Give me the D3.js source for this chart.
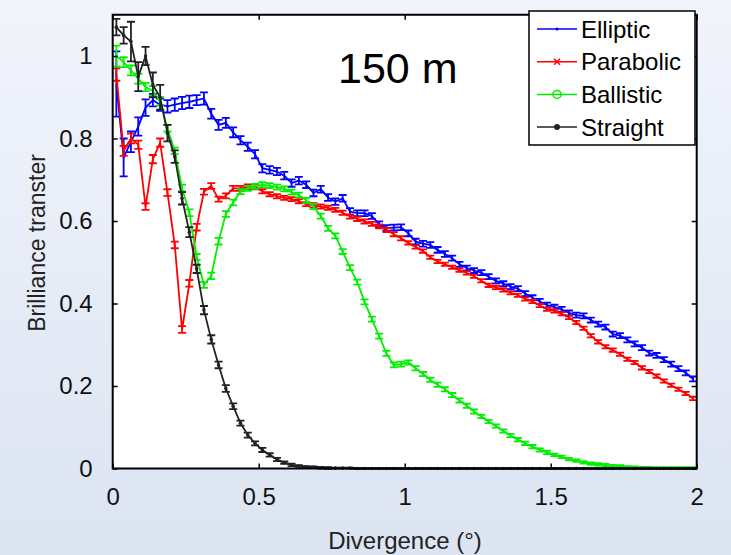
<!doctype html>
<html>
<head>
<script src="https://cdnjs.cloudflare.com/ajax/libs/d3/7.8.5/d3.min.js"></script>
<style>
  body { margin: 0; }
  svg { display: block; font-family: "Liberation Sans", Arial, sans-serif; }
</style>
</head>
<body>
<svg width="731" height="555"></svg>
<script>
// divergence (deg), bin centres
var divergence = [
  0.0125,0.0375,0.0625,0.0875,0.1125,0.1375,0.1625,0.1875,0.2125,0.2375,
  0.2625,0.2875,0.3125,0.3375,0.3625,0.3875,0.4125,0.4375,0.4625,0.4875,
  0.5125,0.5375,0.5625,0.5875,0.6125,0.6375,0.6625,0.6875,0.7125,0.7375,
  0.7625,0.7875,0.8125,0.8375,0.8625,0.8875,0.9125,0.9375,0.9625,0.9875,
  1.0125,1.0375,1.0625,1.0875,1.1125,1.1375,1.1625,1.1875,1.2125,1.2375,
  1.2625,1.2875,1.3125,1.3375,1.3625,1.3875,1.4125,1.4375,1.4625,1.4875,
  1.5125,1.5375,1.5625,1.5875,1.6125,1.6375,1.6625,1.6875,1.7125,1.7375,
  1.7625,1.7875,1.8125,1.8375,1.8625,1.8875,1.9125,1.9375,1.9625,1.9875];

var elliptic = [
  0.932,0.754,0.792,0.829,0.875,0.893,0.882,0.878,0.882,0.886,
  0.889,0.893,0.897,0.860,0.833,0.838,0.815,0.796,0.780,0.762,
  0.728,0.724,0.720,0.710,0.692,0.698,0.688,0.668,0.677,0.657,
  0.647,0.655,0.623,0.619,0.619,0.612,0.592,0.583,0.584,0.585,
  0.570,0.550,0.545,0.542,0.530,0.520,0.510,0.495,0.486,0.480,
  0.475,0.465,0.455,0.448,0.441,0.436,0.424,0.414,0.405,0.396,
  0.391,0.386,0.377,0.372,0.370,0.360,0.350,0.343,0.326,0.322,
  0.312,0.302,0.293,0.280,0.274,0.264,0.253,0.242,0.232,0.217];
var ellipticErr = [
  0.079,0.046,0.025,0.022,0.020,0.015,0.015,0.015,0.015,0.015,
  0.015,0.012,0.015,0.012,0.012,0.012,0.012,0.010,0.010,0.010,
  0.010,0.009,0.009,0.009,0.009,0.009,0.008,0.008,0.008,0.008,
  0.008,0.008,0.008,0.007,0.007,0.007,0.007,0.007,0.007,0.007,
  0.007,0.007,0.007,0.007,0.007,0.007,0.006,0.006,0.006,0.006,
  0.006,0.006,0.006,0.006,0.006,0.006,0.006,0.006,0.006,0.006,
  0.006,0.006,0.006,0.006,0.006,0.006,0.006,0.006,0.006,0.006,
  0.006,0.006,0.006,0.006,0.006,0.006,0.006,0.006,0.006,0.006];

var parabolic = [
  0.955,0.770,0.800,0.785,0.635,0.750,0.790,0.669,0.542,0.337,
  0.449,0.585,0.671,0.685,0.653,0.661,0.679,0.679,0.683,0.683,
  0.672,0.665,0.660,0.656,0.653,0.648,0.641,0.638,0.635,0.632,
  0.627,0.620,0.611,0.605,0.599,0.593,0.587,0.578,0.568,0.558,
  0.547,0.537,0.527,0.512,0.502,0.495,0.488,0.481,0.474,0.466,
  0.455,0.444,0.439,0.433,0.426,0.420,0.411,0.405,0.395,0.386,
  0.382,0.375,0.366,0.354,0.340,0.322,0.307,0.295,0.287,0.277,
  0.265,0.257,0.244,0.235,0.224,0.212,0.202,0.192,0.182,0.170];
var parabolicErr = [
  0.015,0.012,0.012,0.010,0.008,0.010,0.010,0.008,0.008,0.008,
  0.008,0.008,0.007,0.007,0.006,0.006,0.006,0.006,0.006,0.006,
  0.005,0.005,0.005,0.005,0.005,0.005,0.005,0.005,0.005,0.005,
  0.005,0.005,0.005,0.005,0.005,0.005,0.005,0.005,0.005,0.005,
  0.004,0.004,0.004,0.004,0.004,0.004,0.004,0.004,0.004,0.004,
  0.004,0.004,0.004,0.004,0.004,0.004,0.004,0.004,0.004,0.004,
  0.004,0.004,0.004,0.004,0.004,0.004,0.004,0.004,0.004,0.004,
  0.004,0.004,0.004,0.004,0.004,0.004,0.004,0.004,0.004,0.004];

var ballistic = [
  1.000,0.985,0.965,0.945,0.925,0.915,0.890,0.825,0.770,0.680,
  0.620,0.513,0.445,0.467,0.551,0.617,0.645,0.671,0.679,0.684,
  0.688,0.686,0.682,0.678,0.670,0.663,0.650,0.635,0.612,0.582,
  0.564,0.526,0.487,0.452,0.404,0.362,0.321,0.279,0.251,0.253,
  0.257,0.243,0.229,0.215,0.203,0.192,0.178,0.165,0.152,0.138,
  0.126,0.114,0.103,0.091,0.080,0.070,0.061,0.053,0.045,0.039,
  0.033,0.028,0.023,0.019,0.015,0.012,0.010,0.008,0.006,0.005,
  0.004,0.003,0.002,0.002,0.001,0.001,0.001,0.001,0.001,0.001];
var ballisticErr = [
  0.025,0.012,0.012,0.012,0.010,0.012,0.010,0.008,0.008,0.008,
  0.008,0.007,0.007,0.008,0.008,0.007,0.007,0.006,0.006,0.006,
  0.006,0.006,0.006,0.006,0.006,0.006,0.006,0.006,0.006,0.006,
  0.006,0.006,0.006,0.006,0.006,0.006,0.006,0.006,0.006,0.006,
  0.005,0.005,0.005,0.005,0.005,0.005,0.005,0.005,0.005,0.005,
  0.004,0.004,0.004,0.004,0.004,0.004,0.004,0.004,0.004,0.004,
  0.003,0.003,0.003,0.003,0.003,0.003,0.003,0.003,0.003,0.003,
  0.002,0.002,0.002,0.002,0.002,0.002,0.002,0.002,0.002,0.002];

var straight = [
  1.070,1.050,1.035,0.950,1.000,0.930,0.900,0.813,0.756,0.655,
  0.573,0.484,0.384,0.313,0.251,0.194,0.151,0.110,0.081,0.061,
  0.045,0.033,0.022,0.014,0.009,0.006,0.004,0.003,0.002,0.001,
  0.001,0.001,0.001,0,0,0,0,0,0,0,
  0,0,0,0,0,0,0,0,0,0,
  0,0,0,0,0,0,0,0,0,0,
  0,0,0,0,0,0,0,0,0,0,
  0,0,0,0,0,0,0,0,0,0];
var straightErr = [
  0.020,0.020,0.048,0.035,0.022,0.030,0.030,0.020,0.015,0.015,
  0.012,0.010,0.010,0.010,0.008,0.008,0.007,0.006,0.006,0.005,
  0.005,0.004,0.004,0.003,0.003,0.002,0.002,0.002,0.002,0.002,
  0.001,0.001,0.001,0.001,0.001,0.001,0.001,0.001,0.001,0.001,
  0.001,0.001,0.001,0.001,0.001,0.001,0.001,0.001,0.001,0.001,
  0.001,0.001,0.001,0.001,0.001,0.001,0.001,0.001,0.001,0.001,
  0.001,0.001,0.001,0.001,0.001,0.001,0.001,0.001,0.001,0.001,
  0.001,0.001,0.001,0.001,0.001,0.001,0.001,0.001,0.001,0.001];

var seriesNames = ["Elliptic", "Parabolic", "Ballistic", "Straight"];
var xTicks = [0, 0.5, 1, 1.5, 2];
var yTicks = [0, 0.2, 0.4, 0.6, 0.8, 1];

var series = [
  {name: seriesNames[0], values: elliptic, err: ellipticErr, color: "#0000ff", marker: "dot"},
  {name: seriesNames[1], values: parabolic, err: parabolicErr, color: "#ff0000", marker: "x"},
  {name: seriesNames[2], values: ballistic, err: ballisticErr, color: "#00f000", marker: "circle"},
  {name: seriesNames[3], values: straight, err: straightErr, color: "#222222", marker: "star"}
];

var svg = d3.select("svg");

// slide background
var grad = svg.append("defs").append("linearGradient")
  .attr("id", "bg").attr("x1", 0).attr("y1", 0).attr("x2", 0).attr("y2", 1);
grad.append("stop").attr("offset", "0%").attr("stop-color", "#f1f4fb");
grad.append("stop").attr("offset", "100%").attr("stop-color", "#dce4f2");
svg.append("rect").attr("width", 731).attr("height", 555).attr("fill", "url(#bg)");

var x = d3.scaleLinear().domain([0, 2]).range([112.7, 696.7]);
var y = d3.scaleLinear().domain([0, 1.1]).range([468.5, 14.75]);

svg.append("rect")
  .attr("x", x(0)).attr("y", y(1.1))
  .attr("width", x(2) - x(0)).attr("height", y(0) - y(1.1))
  .attr("fill", "#fff");

svg.append("defs").append("clipPath").attr("id", "clip")
  .append("rect")
  .attr("x", x(0)).attr("y", y(1.1) - 2)
  .attr("width", x(2) - x(0) + 4).attr("height", y(0) - y(1.1) + 4);

var plot = svg.append("g").attr("clip-path", "url(#clip)");
var line = d3.line().x((d, i) => x(divergence[i])).y(d => y(d));

series.forEach(function (s) {
  var g = plot.append("g");
  g.append("path")
    .attr("d", line(s.values))
    .attr("fill", "none")
    .attr("stroke", s.color)
    .attr("stroke-width", 1.8);

  var bars = g.selectAll(".eb")
    .data(s.values)
    .enter()
    .append("g")
    .attr("stroke", s.color)
    .attr("stroke-width", 1.8);
  bars.append("line")
    .attr("x1", (d, i) => x(divergence[i])).attr("x2", (d, i) => x(divergence[i]))
    .attr("y1", (d, i) => y(d - s.err[i])).attr("y2", (d, i) => y(d + s.err[i]));
  bars.append("line")
    .attr("x1", (d, i) => x(divergence[i]) - 4).attr("x2", (d, i) => x(divergence[i]) + 4)
    .attr("y1", (d, i) => y(d - s.err[i])).attr("y2", (d, i) => y(d - s.err[i]));
  bars.append("line")
    .attr("x1", (d, i) => x(divergence[i]) - 4).attr("x2", (d, i) => x(divergence[i]) + 4)
    .attr("y1", (d, i) => y(d + s.err[i])).attr("y2", (d, i) => y(d + s.err[i]));

  if (s.marker == "star") {
    g.selectAll(".mk")
      .data(s.values)
      .enter()
      .append("circle")
      .attr("cx", (d, i) => x(divergence[i]))
      .attr("cy", d => y(d))
      .attr("r", 1.8)
      .attr("fill", s.color);
  }
});

// axes, ticks pointing inward on all four sides
var fmt = d => String(d);
var axBottom = svg.append("g").attr("transform", "translate(0," + y(0) + ")")
  .call(d3.axisBottom(x).tickValues(xTicks).tickFormat(fmt).tickSize(-5).tickSizeOuter(0).tickPadding(19));
var axLeft = svg.append("g").attr("transform", "translate(" + x(0) + ",0)")
  .call(d3.axisLeft(y).tickValues(yTicks).tickFormat(fmt).tickSize(-5).tickSizeOuter(0).tickPadding(20));
var axTop = svg.append("g").attr("transform", "translate(0," + y(1.1) + ")")
  .call(d3.axisTop(x).tickValues(xTicks).tickFormat("").tickSize(-5).tickSizeOuter(0));
var axRight = svg.append("g").attr("transform", "translate(" + x(2) + ",0)")
  .call(d3.axisRight(y).tickValues(yTicks).tickFormat("").tickSize(-5).tickSizeOuter(0));

[axBottom, axLeft, axTop, axRight].forEach(function (a) {
  a.select(".domain").remove();
  a.selectAll("line").attr("stroke", "#000").attr("stroke-width", 1.5);
  a.selectAll("text").attr("font-size", 24).attr("fill", "#111")
    .attr("font-family", "'Liberation Sans', Arial, sans-serif");
});

svg.append("rect")
  .attr("x", x(0)).attr("y", y(1.1))
  .attr("width", x(2) - x(0)).attr("height", y(0) - y(1.1))
  .attr("fill", "none").attr("stroke", "#000").attr("stroke-width", 2);

// titles
svg.append("text")
  .attr("x", 405).attr("y", 549)
  .attr("text-anchor", "middle")
  .attr("font-size", 24).attr("fill", "#222")
  .text("Divergence (°)");
svg.append("text")
  .attr("transform", "translate(45,243) rotate(-90)")
  .attr("text-anchor", "middle")
  .attr("font-size", 23).attr("fill", "#222")
  .text("Brilliance transter");
svg.append("text")
  .attr("x", 338).attr("y", 83)
  .attr("font-size", 43).attr("fill", "#000")
  .text("150 m");

// legend
var legend = svg.append("g");
legend.append("rect")
  .attr("x", 529).attr("y", 11).attr("width", 166).attr("height", 134)
  .attr("fill", "#fff").attr("stroke", "#000").attr("stroke-width", 1.5);
var rows = legend.selectAll(".row")
  .data(series)
  .enter()
  .append("g")
  .attr("transform", (d, i) => "translate(0," + (29 + i * 32.7) + ")");
rows.append("line")
  .attr("x1", 537).attr("x2", 577)
  .attr("stroke", d => d.color).attr("stroke-width", 1.5);
rows.append("text")
  .attr("x", 581).attr("y", 8.5)
  .attr("font-size", 24).attr("fill", "#000")
  .text(d => d.name);
rows.each(function (d) {
  var r = d3.select(this);
  if (d.marker == "dot") r.append("circle").attr("cx", 557).attr("r", 1.5).attr("fill", d.color);
  if (d.marker == "x") r.append("path").attr("d", "M554,-3L560,3M554,3L560,-3").attr("stroke", d.color).attr("stroke-width", 1.5);
  if (d.marker == "circle") r.append("circle").attr("cx", 557).attr("r", 4).attr("fill", "none").attr("stroke", d.color).attr("stroke-width", 1.5);
  if (d.marker == "star") r.append("circle").attr("cx", 557).attr("r", 3).attr("fill", d.color);
});
</script>
</body>
</html>
